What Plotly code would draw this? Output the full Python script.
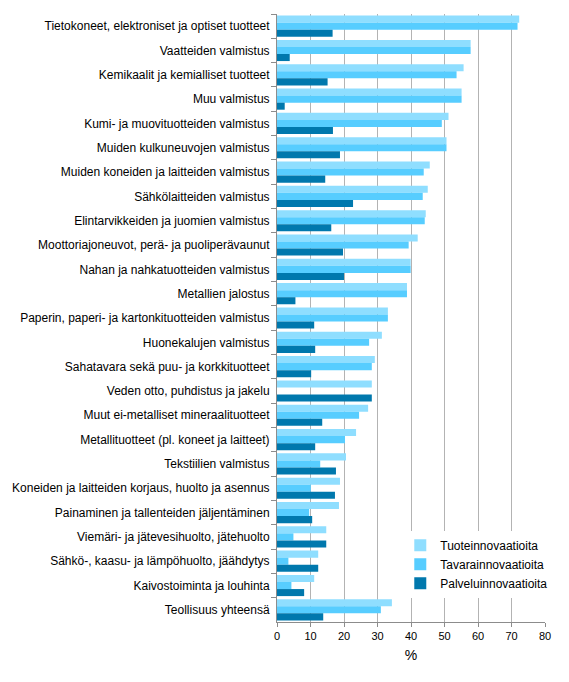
'''Innovaatiotoiminta toimialoittain - vaakapylväät'''
# %%
import plotly.graph_objects as go

# %%
categories: list[str] = [
    "Tietokoneet, elektroniset ja optiset tuotteet",
    "Vaatteiden valmistus",
    "Kemikaalit ja kemialliset tuotteet",
    "Muu valmistus",
    "Kumi- ja muovituotteiden valmistus",
    "Muiden kulkuneuvojen valmistus",
    "Muiden koneiden ja laitteiden valmistus",
    "Sähkölaitteiden valmistus",
    "Elintarvikkeiden ja juomien valmistus",
    "Moottoriajoneuvot, perä- ja puoliperävaunut",
    "Nahan ja nahkatuotteiden valmistus",
    "Metallien jalostus",
    "Paperin, paperi- ja kartonkituotteiden valmistus",
    "Huonekalujen valmistus",
    "Sahatavara sekä puu- ja korkkituotteet",
    "Veden otto, puhdistus ja jakelu",
    "Muut ei-metalliset mineraalituotteet",
    "Metallituotteet (pl. koneet ja laitteet)",
    "Tekstiilien valmistus",
    "Koneiden ja laitteiden korjaus, huolto ja asennus",
    "Painaminen ja tallenteiden jäljentäminen",
    "Viemäri- ja jätevesihuolto, jätehuolto",
    "Sähkö-, kaasu- ja lämpöhuolto, jäähdytys",
    "Kaivostoiminta ja louhinta",
    "Teollisuus yhteensä",
]

# % yrityksistä
tuote: list[float] = [72.3, 57.8, 55.7, 55.1, 51.2, 50.6, 45.6, 45.0, 44.4, 42.0, 39.9, 38.8, 33.1,
                      31.3, 29.2, 28.3, 27.2, 23.6, 20.6, 18.8, 18.5, 14.7, 12.3, 11.1, 34.3]
tavara: list[float] = [71.8, 57.8, 53.6, 55.1, 49.2, 50.6, 43.8, 43.5, 44.1, 39.3, 39.9, 38.8, 33.1,
                       27.5, 28.3, 0.0, 24.5, 20.3, 12.9, 10.1, 9.6, 4.9, 3.4, 4.3, 31.0]
palvelu: list[float] = [16.6, 3.8, 15.1, 2.3, 16.7, 18.8, 14.4, 22.7, 16.2, 19.7, 20.0, 5.5, 11.1,
                        11.4, 10.2, 28.3, 13.5, 11.4, 17.6, 17.3, 10.5, 14.7, 12.3, 8.1, 13.8]

series_names: list[str] = ["Tuoteinnovaatioita", "Tavarainnovaatioita", "Palveluinnovaatioita"]
COLORS: list[str] = ["#8FDEFF", "#57CDFF", "#0078AD"]

# %%
figdata: list[go.Bar] = [
    go.Bar(y=categories, x=vals, name=name, orientation="h", marker=dict(color=col, line=dict(width=0)))
    for vals, name, col in zip([tuote, tavara, palvelu], series_names, COLORS)
]
fig: go.Figure = go.Figure(data=figdata)

fig.update_layout(
    width=569, height=682,
    margin=dict(l=277, r=24, t=14, b=60),
    barmode="group", bargap=0.13, bargroupgap=0,
    paper_bgcolor="white", plot_bgcolor="white",
    font=dict(family="Liberation Sans, Arial, sans-serif", size=12, color="black"),
    showlegend=True,
    legend=dict(x=0.46, y=0.15, xanchor="left", yanchor="top", bgcolor="white",
                traceorder="normal", font=dict(size=12), itemwidth=30,
                tracegroupgap=2),
)
fig.update_xaxes(
    range=[0, 80], dtick=10, showgrid=True, gridcolor="#B3B3B3", gridwidth=1,
    showline=True, linecolor="#8C8C8C", ticks="outside", ticklen=4, tickcolor="#8C8C8C",
    zeroline=False, title=dict(text="%", standoff=8), fixedrange=True, automargin=False,
    tickfont=dict(size=11),
)
fig.update_yaxes(
    autorange="reversed", showline=True, linecolor="#8C8C8C", ticks="outside", ticklen=5,
    tickcolor="#8C8C8C", tickson="boundaries", showgrid=False, fixedrange=True,
    automargin=False, tickfont=dict(size=12), ticklabelstandoff=4,
)

# sivun oletusmarginaali pois
fig.write_html("out.html", config={"displayModeBar": False},
               post_script="document.body.style.margin='0';")
